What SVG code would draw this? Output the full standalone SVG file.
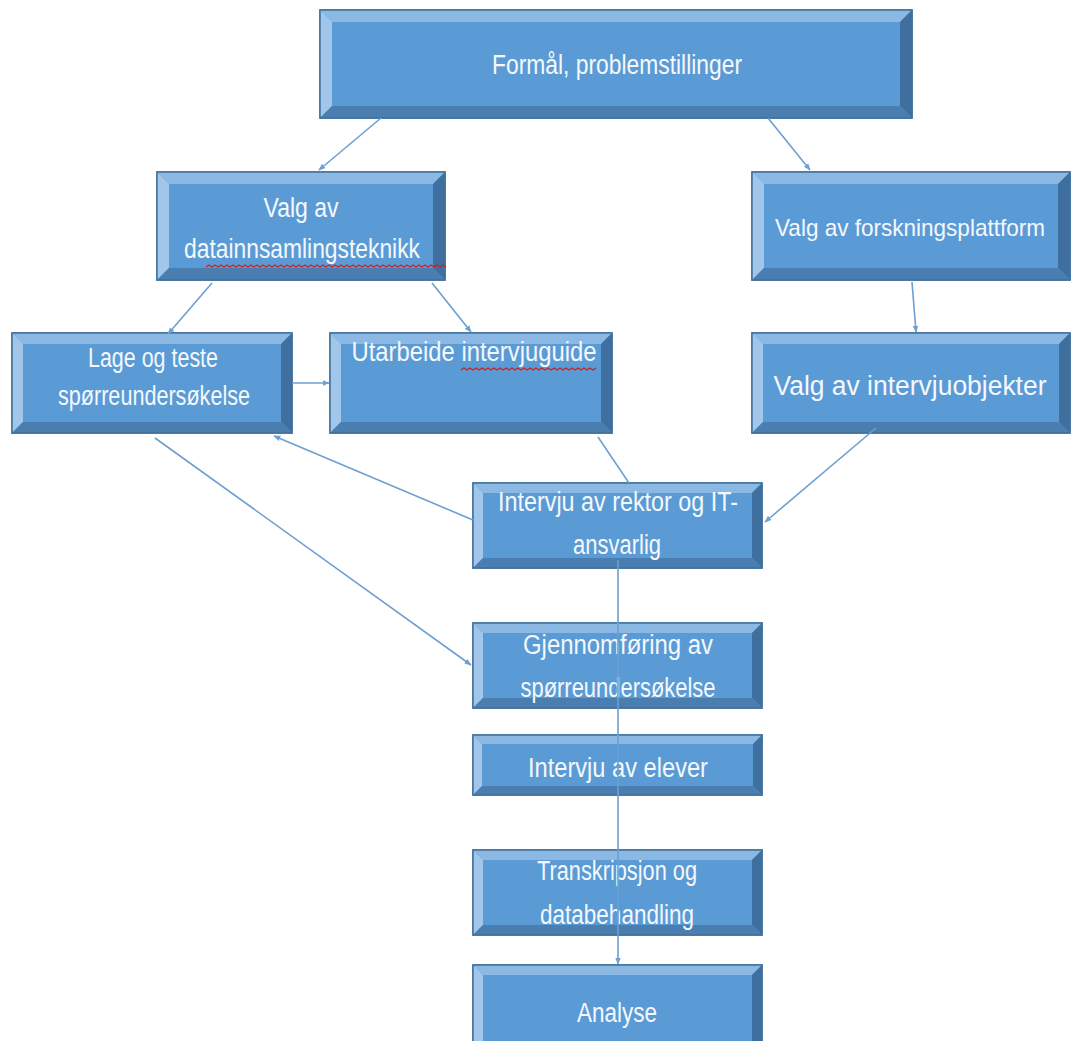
<svg xmlns="http://www.w3.org/2000/svg" width="1073" height="1041" viewBox="0 0 1073 1041">
<style>
.face{fill:#5b9bd5;stroke:#41719c;stroke-width:1.5}
.bt{fill:#8bb9e3}
.bl{fill:#a2c6ea}
.br{fill:#3f6f9e}
.bb{fill:#4a7eb0}
.t{font-family:"Liberation Sans",Arial,sans-serif;font-size:27px;fill:#f4f8fc;text-anchor:middle}
.c{fill:none;stroke:#6d9fd0;stroke-width:1.6}
.sq{fill:none;stroke:#d02020;stroke-width:1.3}
</style>
<defs>
<marker id="ah" viewBox="0 0 10 10" refX="9" refY="5" markerWidth="7" markerHeight="7" orient="auto" markerUnits="userSpaceOnUse">
<path d="M0,1 L10,5 L0,9 z" fill="#6d9fd0"/>
</marker>
</defs>
<rect width="1073" height="1041" fill="#ffffff"/>
<g id="nodes">
<g id="n-formal">
<rect class="face" x="320" y="10" width="592" height="108"/>
<polygon class="bt" points="320,10 912,10 900,22 332,22"/>
<polygon class="bl" points="320,10 332,22 332,106 320,118"/>
<polygon class="br" points="912,10 912,118 900,106 900,22"/>
<polygon class="bb" points="320,118 332,106 900,106 912,118"/>
<rect x="320" y="10" width="592" height="108" fill="none" stroke="#41719c" stroke-width="1.5"/>
<text class="t" x="617" y="74" textLength="250" lengthAdjust="spacingAndGlyphs">Formål, problemstillinger</text>
</g>
<g id="n-data">
<rect class="face" x="157" y="172" width="288" height="108"/>
<polygon class="bt" points="157,172 445,172 433,184 169,184"/>
<polygon class="bl" points="157,172 169,184 169,268 157,280"/>
<polygon class="br" points="445,172 445,280 433,268 433,184"/>
<polygon class="bb" points="157,280 169,268 433,268 445,280"/>
<rect x="157" y="172" width="288" height="108" fill="none" stroke="#41719c" stroke-width="1.5"/>
<text class="t" x="301" y="217" textLength="75" lengthAdjust="spacingAndGlyphs">Valg av</text>
<text class="t" x="302" y="258" textLength="236" lengthAdjust="spacingAndGlyphs">datainnsamlingsteknikk</text>
<path class="sq" d="M206,267 l3,-2 l3,2 l3,-2 l3,2 l3,-2 l3,2 l3,-2 l3,2 l3,-2 l3,2 l3,-2 l3,2 l3,-2 l3,2 l3,-2 l3,2 l3,-2 l3,2 l3,-2 l3,2 l3,-2 l3,2 l3,-2 l3,2 l3,-2 l3,2 l3,-2 l3,2 l3,-2 l3,2 l3,-2 l3,2 l3,-2 l3,2 l3,-2 l3,2 l3,-2 l3,2 l3,-2 l3,2 l3,-2 l3,2 l3,-2 l3,2 l3,-2 l3,2 l3,-2 l3,2 l3,-2 l3,2 l3,-2 l3,2 l3,-2 l3,2 l3,-2 l3,2 l3,-2 l3,2 l3,-2 l3,2 l3,-2 l3,2 l3,-2 l3,2 l3,-2 l3,2 l3,-2 l3,2 l3,-2 l3,2 l3,-2 l3,2 l3,-2 l3,2 l3,-2 l3,2 l3,-2 l3,2 l3,-2 l3,2"/>
</g>
<g id="n-forsk">
<rect class="face" x="752" y="172" width="318" height="108"/>
<polygon class="bt" points="752,172 1070,172 1058,184 764,184"/>
<polygon class="bl" points="752,172 764,184 764,268 752,280"/>
<polygon class="br" points="1070,172 1070,280 1058,268 1058,184"/>
<polygon class="bb" points="752,280 764,268 1058,268 1070,280"/>
<rect x="752" y="172" width="318" height="108" fill="none" stroke="#41719c" stroke-width="1.5"/>
<text class="t" x="910" y="236" style="font-size:24px" textLength="270" lengthAdjust="spacingAndGlyphs">Valg av forskningsplattform</text>
</g>
<g id="n-lage">
<rect class="face" x="12" y="333" width="280" height="100"/>
<polygon class="bt" points="12,333 292,333 281,344 23,344"/>
<polygon class="bl" points="12,333 23,344 23,422 12,433"/>
<polygon class="br" points="292,333 292,433 281,422 281,344"/>
<polygon class="bb" points="12,433 23,422 281,422 292,433"/>
<rect x="12" y="333" width="280" height="100" fill="none" stroke="#41719c" stroke-width="1.5"/>
<text class="t" x="153" y="367" textLength="130" lengthAdjust="spacingAndGlyphs">Lage og teste</text>
<text class="t" x="154" y="405" textLength="192" lengthAdjust="spacingAndGlyphs">spørreundersøkelse</text>
</g>
<g id="n-utarb">
<rect class="face" x="330" y="333" width="282" height="100"/>
<polygon class="bt" points="330,333 612,333 601,344 341,344"/>
<polygon class="bl" points="330,333 341,344 341,422 330,433"/>
<polygon class="br" points="612,333 612,433 601,422 601,344"/>
<polygon class="bb" points="330,433 341,422 601,422 612,433"/>
<rect x="330" y="333" width="282" height="100" fill="none" stroke="#41719c" stroke-width="1.5"/>
<text class="t" x="474" y="361" textLength="245" lengthAdjust="spacingAndGlyphs">Utarbeide intervjuguide</text>
<path class="sq" d="M461,370 l3,-2 l3,2 l3,-2 l3,2 l3,-2 l3,2 l3,-2 l3,2 l3,-2 l3,2 l3,-2 l3,2 l3,-2 l3,2 l3,-2 l3,2 l3,-2 l3,2 l3,-2 l3,2 l3,-2 l3,2 l3,-2 l3,2 l3,-2 l3,2 l3,-2 l3,2 l3,-2 l3,2 l3,-2 l3,2 l3,-2 l3,2 l3,-2 l3,2 l3,-2 l3,2 l3,-2 l3,2 l3,-2 l3,2 l3,-2 l3,2 l3,-2"/>
</g>
<g id="n-objekt">
<rect class="face" x="752" y="333" width="318" height="100"/>
<polygon class="bt" points="752,333 1070,333 1059,344 763,344"/>
<polygon class="bl" points="752,333 763,344 763,422 752,433"/>
<polygon class="br" points="1070,333 1070,433 1059,422 1059,344"/>
<polygon class="bb" points="752,433 763,422 1059,422 1070,433"/>
<rect x="752" y="333" width="318" height="100" fill="none" stroke="#41719c" stroke-width="1.5"/>
<text class="t" x="910" y="395" textLength="273" lengthAdjust="spacingAndGlyphs">Valg av intervjuobjekter</text>
</g>
<g id="n-rektor">
<rect class="face" x="473" y="483" width="289" height="85"/>
<polygon class="bt" points="473,483 762,483 752,493 483,493"/>
<polygon class="bl" points="473,483 483,493 483,558 473,568"/>
<polygon class="br" points="762,483 762,568 752,558 752,493"/>
<polygon class="bb" points="473,568 483,558 752,558 762,568"/>
<rect x="473" y="483" width="289" height="85" fill="none" stroke="#41719c" stroke-width="1.5"/>
<text class="t" x="618" y="511" textLength="240" lengthAdjust="spacingAndGlyphs">Intervju av rektor og IT-</text>
<text class="t" x="617" y="554" textLength="88" lengthAdjust="spacingAndGlyphs">ansvarlig</text>
</g>
<g id="n-gjenn">
<rect class="face" x="473" y="623" width="289" height="85"/>
<polygon class="bt" points="473,623 762,623 752,633 483,633"/>
<polygon class="bl" points="473,623 483,633 483,698 473,708"/>
<polygon class="br" points="762,623 762,708 752,698 752,633"/>
<polygon class="bb" points="473,708 483,698 752,698 762,708"/>
<rect x="473" y="623" width="289" height="85" fill="none" stroke="#41719c" stroke-width="1.5"/>
<text class="t" x="618" y="654" textLength="190" lengthAdjust="spacingAndGlyphs">Gjennomføring av</text>
<text class="t" x="618" y="697" textLength="195" lengthAdjust="spacingAndGlyphs">spørreundersøkelse</text>
</g>
<g id="n-elever">
<rect class="face" x="473" y="735" width="289" height="60"/>
<polygon class="bt" points="473,735 762,735 753,744 482,744"/>
<polygon class="bl" points="473,735 482,744 482,786 473,795"/>
<polygon class="br" points="762,735 762,795 753,786 753,744"/>
<polygon class="bb" points="473,795 482,786 753,786 762,795"/>
<rect x="473" y="735" width="289" height="60" fill="none" stroke="#41719c" stroke-width="1.5"/>
<text class="t" x="618" y="777" textLength="180" lengthAdjust="spacingAndGlyphs">Intervju av elever</text>
</g>
<g id="n-transk">
<rect class="face" x="473" y="850" width="289" height="85"/>
<polygon class="bt" points="473,850 762,850 752,860 483,860"/>
<polygon class="bl" points="473,850 483,860 483,925 473,935"/>
<polygon class="br" points="762,850 762,935 752,925 752,860"/>
<polygon class="bb" points="473,935 483,925 752,925 762,935"/>
<rect x="473" y="850" width="289" height="85" fill="none" stroke="#41719c" stroke-width="1.5"/>
<text class="t" x="617" y="880" textLength="160" lengthAdjust="spacingAndGlyphs">Transkripsjon og</text>
<text class="t" x="617" y="924" textLength="154" lengthAdjust="spacingAndGlyphs">databehandling</text>
</g>
<g id="n-analyse">
<rect class="face" x="473" y="965" width="289" height="90"/>
<polygon class="bt" points="473,965 762,965 752,975 483,975"/>
<polygon class="bl" points="473,965 483,975 483,1045 473,1055"/>
<polygon class="br" points="762,965 762,1055 752,1045 752,975"/>
<rect x="473" y="965" width="289" height="90" fill="none" stroke="#41719c" stroke-width="1.5"/>
<text class="t" x="617" y="1022" textLength="80" lengthAdjust="spacingAndGlyphs">Analyse</text>
</g>
</g>
<g id="connectors">
<line class="c" x1="381" y1="118" x2="319" y2="170" marker-end="url(#ah)"/>
<line class="c" x1="768" y1="118" x2="810" y2="170" marker-end="url(#ah)"/>
<line class="c" x1="212" y1="283" x2="168" y2="334" marker-end="url(#ah)"/>
<line class="c" x1="432" y1="283" x2="471" y2="332" marker-end="url(#ah)"/>
<line class="c" x1="292" y1="383" x2="329" y2="383" marker-end="url(#ah)"/>
<line class="c" x1="912" y1="282" x2="916" y2="332" marker-end="url(#ah)"/>
<line class="c" x1="598" y1="437" x2="629" y2="483"/>
<line class="c" x1="473" y1="520" x2="274" y2="436" marker-end="url(#ah)"/>
<line class="c" x1="876" y1="428" x2="765" y2="522" marker-end="url(#ah)"/>
<line class="c" x1="155" y1="438" x2="471" y2="665" marker-end="url(#ah)"/>
<line class="c" x1="618" y1="560" x2="618" y2="964" marker-end="url(#ah)"/>
</g>
</svg>
